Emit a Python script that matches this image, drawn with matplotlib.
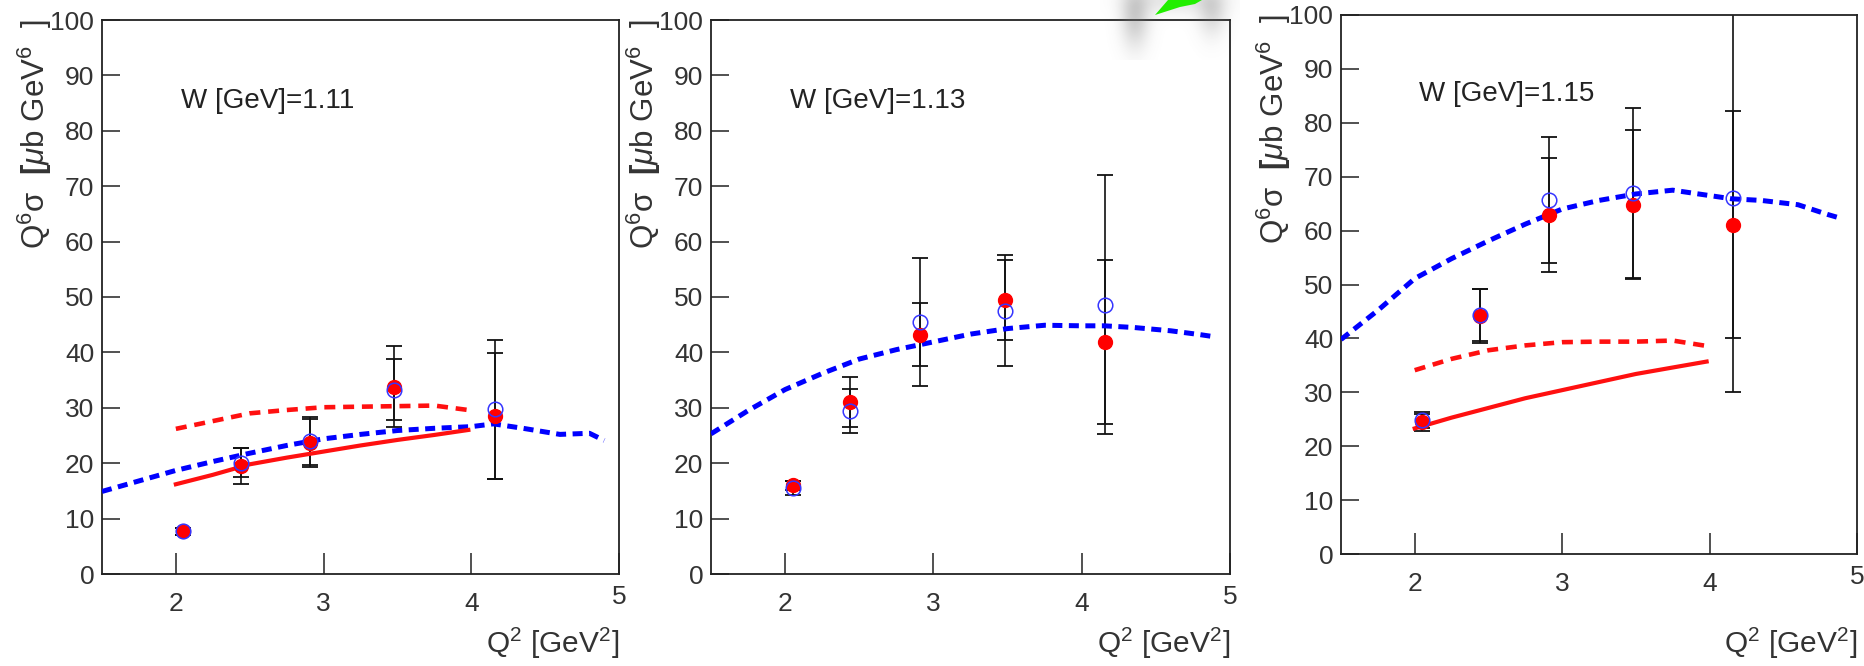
import matplotlib
matplotlib.use("Agg")
import matplotlib.pyplot as plt
import numpy as np
from matplotlib.patches import Polygon
from matplotlib import transforms

plt.rcParams['font.family'] = ['Liberation Sans', 'DejaVu Sans']
plt.rcParams['mathtext.fontset'] = 'custom'
plt.rcParams['mathtext.rm'] = 'Liberation Sans'
plt.rcParams['mathtext.it'] = 'Liberation Sans:italic'
plt.rcParams['mathtext.bf'] = 'Liberation Sans:bold'
plt.rcParams['mathtext.default'] = 'regular'

# measured points (same Q2 bins in every W panel)
q2_data = [2.05, 2.44, 2.91, 3.48, 4.16]
w_values = ['1.11', '1.13', '1.15']

red_val = [[7.7, 19.5, 23.7, 33.8, 28.5],
           [16.0, 31.0, 43.2, 49.4, 41.9],
           [24.4, 44.2, 62.9, 64.8, 61.1]]
red_err = [[0.6, 3.3, 4.3, 7.3, 11.4],
           [0.8, 4.5, 5.7, 7.2, 14.8],
           [1.5, 5.0, 10.6, 13.8, 21.0]]
blue_val = [[7.7, 20.1, 24.0, 33.3, 29.7],
            [15.5, 29.4, 45.5, 47.5, 48.6],
            [24.9, 44.3, 65.7, 67.0, 66.1]]
blue_err = [[0.6, 2.6, 4.4, 5.5, 12.6],
            [1.2, 4.0, 11.5, 10.0, 23.4],
            [1.5, 4.8, 11.7, 15.8, 36.0]]

# model curves
blue_q2 = [1.5, 1.75, 2.0, 2.25, 2.5, 2.75, 3.0, 3.25, 3.5, 3.75, 4.0, 4.15, 4.35, 4.6, 4.8, 4.9]
blue_curve = [[14.9, 16.8, 18.7, 20.3, 21.8, 23.2, 24.4, 25.2, 25.9, 26.3, 26.6, 27.1, 26.3, 25.2, 25.4, 24.1],
              [25.3, 29.5, 33.3, 36.2, 38.8, 40.5, 41.9, 43.3, 44.3, 44.9, 44.8, 44.8, 44.5, 43.9, 43.2, 42.8],
              [39.8, 45.2, 51.1, 54.8, 58.1, 61.2, 64.0, 65.6, 66.8, 67.5, 66.5, 65.9, 65.6, 64.8, 63.0, 62.2]]

red_q2 = [2.0, 2.25, 2.5, 2.75, 3.0, 3.25, 3.5, 3.75, 3.98]
red_dashed = [[26.2, 27.6, 29.0, 29.6, 30.1, 30.2, 30.3, 30.4, 29.6],
              None,
              [34.1, 36.2, 37.8, 38.7, 39.3, 39.4, 39.4, 39.6, 38.6]]
red_solid = [[16.2, 17.9, 19.8, 21.0, 22.1, 23.2, 24.2, 25.1, 26.0],
             None,
             [23.3, 25.3, 27.1, 28.9, 30.4, 31.9, 33.4, 34.6, 35.7]]

W, H = 1864, 666
fig = plt.figure(figsize=(W / 100, H / 100), dpi=100)

# panel boxes in pixels: left, right, top, bottom
boxes = [(102, 619, 20, 574), (711, 1230, 20, 574), (1341, 1857, 15, 554)]

for i, (l, r, t, b) in enumerate(boxes):
    ax = fig.add_axes([l / W, 1 - b / H, (r - l) / W, (b - t) / H])

    ax.errorbar(q2_data, blue_val[i], yerr=blue_err[i], fmt='none', ecolor='#111111',
                elinewidth=1.2, capsize=6, capthick=1.3, zorder=2)
    ax.errorbar(q2_data, red_val[i], yerr=red_err[i], fmt='none', ecolor='#111111',
                elinewidth=1.2, capsize=6, capthick=1.3, zorder=2)

    ax.plot(blue_q2, blue_curve[i], color='#0000ff', lw=3.6, ls=(0, (2.0, 1.3)), zorder=3)
    if red_dashed[i] is not None:
        ax.plot(red_q2, red_dashed[i], color='#ff1010', lw=3.3, ls=(0, (2.4, 1.7)), zorder=3)
        ax.plot(red_q2, red_solid[i], color='#ff1010', lw=3.0, zorder=3)

    ax.plot(q2_data, red_val[i], 'o', color='#ff0000', ms=10, mec='#ff0000', zorder=4)
    ax.plot(q2_data, blue_val[i], 'o', mfc='none', mec='#3535ff', ms=10.5, mew=1.1, zorder=5)

    ax.set_xlim(1.5, 5)
    ax.set_ylim(0, 100)
    ax.set_xticks([2, 3, 4, 5])
    ax.set_yticks(range(0, 101, 10))
    ax.tick_params(axis='y', direction='in', length=13, width=1.1, pad=5.5,
                   labelsize=19, color='#222222', labelcolor='#333333')
    ax.tick_params(axis='x', direction='in', length=15, width=1.1, pad=13,
                   labelsize=19, color='#222222', labelcolor='#333333')
    for sp in ax.spines.values():
        sp.set_linewidth(1.3)
        sp.set_color('#222222')

    # last x label sits a bit higher
    lab5 = ax.get_xticklabels()[-1]
    lab5.set_transform(lab5.get_transform() +
                       transforms.ScaledTranslation(0, 0.07, fig.dpi_scale_trans))

    ax.set_ylabel(r'Q$^{6}$σ  $\mathbf{[}\mathit{\mu}$b GeV$^{6}$  ]', fontsize=22.5,
                  color='#333333', loc='top')
    ax.yaxis.set_label_coords(-48 / (r - l), 1.0)
    ax.set_xlabel(r'Q$^{2}$ [GeV$^{2}$]', fontsize=21.5, color='#333333', loc='right')
    ax.xaxis.set_label_coords(1.0, -(626 - b) / (b - t))

    ax.text(0.152, 0.853, 'W [GeV]=' + w_values[i], transform=ax.transAxes,
            fontsize=20, color='#222222', va='center', ha='left')

# cursor shadow and green pointer near the top edge
ov = fig.add_axes([1100 / W, 1 - 60 / H, 140 / W, 60 / H])
ov.set_xlim(1100, 1240)
ov.set_ylim(60, 0)
ov.axis('off')
xs, ys = np.meshgrid(np.arange(1100, 1240) + 0.5, np.arange(0, 60) + 0.5)
shade = (0.36 * np.exp(-0.5 * (((xs - 1135) / 10) ** 2 + ((ys - 16) / 22) ** 2))
         + 0.28 * np.exp(-0.5 * (((xs - 1212) / 10) ** 2 + ((ys - 10) / 18) ** 2))
         + 0.18 * np.exp(-0.5 * (((xs - 1175) / 32) ** 2 + ((ys - 0) / 10) ** 2)))
rgba = np.zeros((60, 140, 4))
rgba[..., :3] = 0.45
rgba[..., 3] = np.clip(shade, 0, 1)
ov.imshow(rgba, extent=(1100, 1240, 60, 0), interpolation='bilinear', aspect='auto')
ov.add_patch(Polygon([(1155, 15), (1168, 0), (1202, 0), (1195, 4), (1180, 7), (1155, 15)],
                     closed=True, color='#22ee00', lw=0))

fig.savefig('out.png', dpi=100)
